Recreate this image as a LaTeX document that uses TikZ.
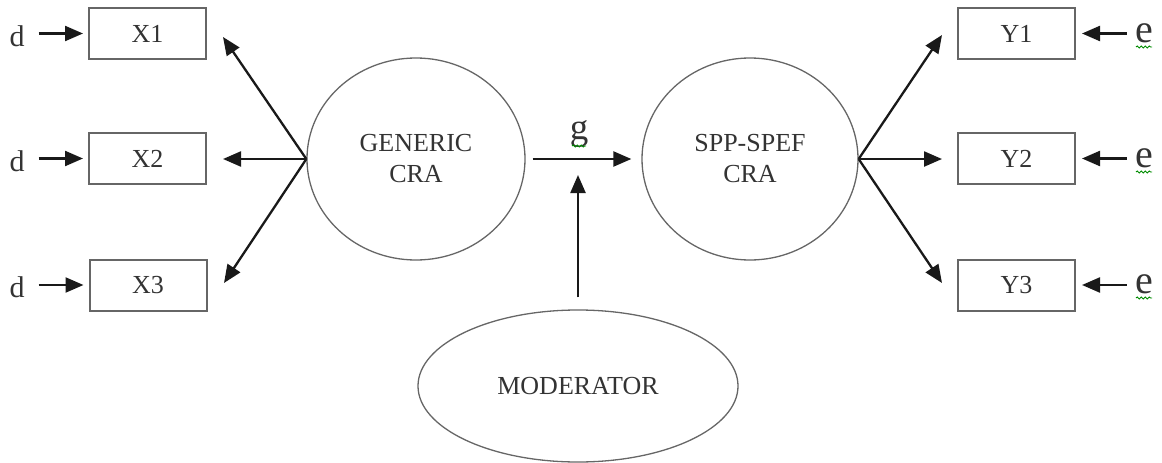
\documentclass[tikz,border=0pt]{standalone}
\usepackage{fontspec}
\setmainfont{Liberation Serif}
\usetikzlibrary{arrows.meta,shapes.geometric,decorations.pathmorphing}
\begin{document}
\begin{tikzpicture}[x=1pt,y=-1pt,
  txt/.style={font=\fontsize{26}{31}\selectfont, text=black!80},
  obs/.style={txt, draw=black!60, line width=2pt, minimum width=117pt, minimum height=51pt, inner sep=0pt},
  lat/.style={txt, draw=black!60, line width=1.3pt, ellipse, inner sep=0pt, align=center},
  dlbl/.style={font=\fontsize{30}{34}\selectfont, text=black!80, inner sep=0pt, anchor=base},
  biglbl/.style={font=\fontsize{40}{44}\selectfont, text=black!80, inner sep=0pt, anchor=base},
  arr/.style={line width=2.3pt, draw=black!90, -{Triangle[length=18pt,width=15pt]}},
  wavy/.style={draw=green!55!black, line width=0.9pt, decorate, decoration={snake, amplitude=1pt, segment length=4pt}}
]
\useasboundingbox (0,0) rectangle (1162,463);

% latent variables
\node[lat, minimum width=218pt, minimum height=202pt] (gen) at (416,159) {GENERIC\\CRA};
\node[lat, minimum width=216pt, minimum height=202pt] (spp) at (750,159) {SPP-SPEF\\CRA};
\node[lat, minimum width=320pt, minimum height=152pt] (mod) at (578,386) {MODERATOR};

% indicators
\node[obs] (x1) at (147.5,33.5) {X1};
\node[obs] (x2) at (147.5,158.5) {X2};
\node[obs] (x3) at (148,285) {X3};
\node[obs] (y1) at (1016.5,33.5) {Y1};
\node[obs] (y2) at (1016.5,158.5) {Y2};
\node[obs] (y3) at (1016.5,285) {Y3};

% error labels
\node[dlbl] (d1) at (17,46.5) {d};
\node[dlbl] (d2) at (17,171.5) {d};
\node[dlbl] (d3) at (17,297.5) {d};
\node[biglbl] (e1) at (1144,42) {e};
\node[biglbl] (e2) at (1144,167) {e};
\node[biglbl] (e3) at (1144,293) {e};
\node[biglbl, font=\fontsize{37}{40}\selectfont] (g) at (579,139) {g};

% wavy spell-check underlines
\draw[wavy] (1136,47) -- (1152,47);
\draw[wavy] (1136,172) -- (1152,172);
\draw[wavy] (1136,298) -- (1152,298);
\draw[wavy] (572,146) -- (586,146);

% arrow tip coordinates
\coordinate (tx1) at (223,37);
\coordinate (tx2) at (223,159);
\coordinate (tx3) at (224,283);
\coordinate (ty1) at (942,35);
\coordinate (ty2) at (942,159);
\coordinate (ty3) at (942,283);
\coordinate (gtip) at (578,175);

% error arrows
\draw[arr, shorten <=14pt, shorten >=5pt] (d1.east |- x1) -- (x1);
\draw[arr, shorten <=14pt, shorten >=5pt] (d2.east |- x2) -- (x2);
\draw[arr, shorten <=14pt, shorten >=5pt] (d3.east |- x3) -- (x3);
\draw[arr, shorten <=8pt, shorten >=6pt] (e1.west |- y1) -- (y1);
\draw[arr, shorten <=8pt, shorten >=6pt] (e2.west |- y2) -- (y2);
\draw[arr, shorten <=8pt, shorten >=6pt] (e3.west |- y3) -- (y3);

% loadings
\draw[arr] (gen.west) -- (tx1);
\draw[arr] (gen.west) -- (tx2);
\draw[arr] (gen.west) -- (tx3);
\draw[arr] (spp.east) -- (ty1);
\draw[arr] (spp.east) -- (ty2);
\draw[arr] (spp.east) -- (ty3);

% structural path and moderator
\draw[arr, shorten <=7pt, shorten >=10pt] (gen.east) -- (spp.west);
\draw[arr, shorten <=12pt] (mod.north) -- (gtip);
\end{tikzpicture}
\end{document}
